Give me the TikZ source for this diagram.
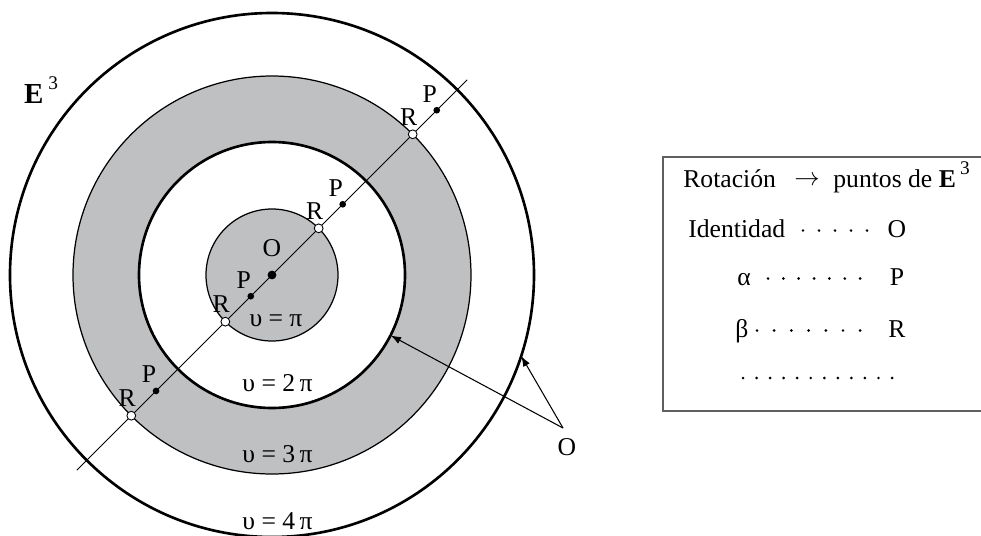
\documentclass[tikz,border=0pt]{standalone}
\usepackage{fontspec}
\setmainfont{Liberation Serif}
\usetikzlibrary{arrows.meta}

\definecolor{ringgray}{RGB}{191,192,194}
\definecolor{framegray}{RGB}{95,95,95}

\begin{document}
\begin{tikzpicture}[
  >={Latex[length=6pt,width=4.2pt]}, font=\fontsize{14.6}{17}\selectfont,
  thickring/.style={line width=1.5pt},
  thinring/.style={line width=0.7pt},
  axisline/.style={line width=0.55pt},
  ptfull/.style={circle, fill=black, inner sep=0pt, minimum size=3.8pt},
  ptcenter/.style={circle, fill=black, inner sep=0pt, minimum size=5pt},
  ptopen/.style={circle, draw, fill=white, line width=0.5pt, inner sep=0pt, minimum size=5pt},
  rlab/.style={label={[xshift=-2.3pt, label distance=-1pt]90:R}},
  plab/.style={label={[xshift=-4pt, label distance=-1pt]90:P}},
  ptr/.style={->, line width=0.6pt},
  tdot/.style={circle, fill=black, inner sep=0pt, minimum size=1.7pt},
  boxtxt/.style={inner sep=0pt, anchor=base west},
  colval/.style={inner sep=0pt, anchor=base},
]
  \useasboundingbox (-5.44,-5.2) rectangle (14.18,5.5);

  %% Shaded rings
  \fill[ringgray] (0,0) circle (3.98);
  \fill[white] (0,0) circle (2.66);
  \fill[ringgray] (0,0) circle (1.32);

  %% Circle outlines
  \draw[thickring] (0,0) circle (5.24);
  \draw[thinring] (0,0) circle (3.98);
  \draw[thickring] (0,0) circle (2.66);
  \draw[thinring] (0,0) circle (1.32);

  %% Diameter through O
  \coordinate (lo) at (225:5.52);
  \coordinate (hi) at (45:5.52);
  \draw[axisline] (lo) -- (hi);

  %% Points on the diameter
  \node[ptcenter, label={[label distance=4pt]90:O}] (o) at (0,0) {};
  \node[ptfull, plab] (p1) at (225:0.6) {};
  \node[ptopen, rlab] (r1) at (225:1.32) {};
  \node[ptfull, plab] (p2) at (45:2.0) {};
  \node[ptopen, rlab] (r2) at (45:1.32) {};
  \node[ptfull, plab] (p3) at (225:3.28) {};
  \node[ptopen, rlab] (r3) at (225:3.98) {};
  \node[ptfull, plab] (p4) at (45:4.66) {};
  \node[ptopen, rlab] (r4) at (45:3.98) {};

  %% Angle labels
  \node (v1) at (0.08,-0.92) {υ = π};
  \node (v2) at (0.11,-2.17) {υ = 2\,π};
  \node (v3) at (0.11,-3.59) {υ = 3\,π};
  \node (v4) at (0.11,-4.93) {υ = 4\,π};

  %% Space label
  \node (espace) at (-4.62,3.7)
    {\fontsize{16.5}{18}\selectfont\textbf{E}\,\raisebox{0.5em}{\fontsize{11}{12}\selectfont 3}};

  %% Pointers to the circles of O
  \node (olab) at (5.9,-3.44) {O};
  \coordinate (ofoot) at (5.82,-3.06);
  \coordinate (tin) at (-27:2.66);
  \coordinate (tout) at (-18:5.24);
  \draw[ptr] (ofoot) -- (tin);
  \draw[ptr] (ofoot) -- (tout);

  %% Table box
  \draw[framegray, line width=0.85pt] (14.4,2.36) -- (7.82,2.36) -- (7.82,-2.72) -- (14.4,-2.72);

  \node[boxtxt] (rot) at (8.22,1.76) {Rotación};
  \node[colval, font=\fontsize{13.5}{14}\selectfont] (arr) at (10.7,1.8) {$\rightarrow$};
  \node[boxtxt] (pts) at (11.22,1.76)
    {puntos de \textbf{E}\,\raisebox{0.5em}{\fontsize{11}{12}\selectfont 3}};

  \node[boxtxt] (ident) at (8.32,0.76) {Identidad};
  \foreach \i in {0,...,4}
    \node[tdot] at (10.62+0.32*\i,0.89) {};
  \node[colval] (vo) at (12.5,0.76) {O};

  \node[colval] (alf) at (9.44,-0.2) {α};
  \foreach \i in {0,...,6}
    \node[tdot] at (9.92+0.307*\i,-0.07) {};
  \node[colval] (vp) at (12.5,-0.2) {P};

  \node[colval] (bet) at (9.4,-1.24) {β};
  \foreach \i in {0,...,6}
    \node[tdot] at (9.7+0.344*\i,-1.11) {};
  \node[colval] (vr) at (12.5,-1.24) {R};

  \foreach \i in {0,...,11}
    \node[tdot] at (9.42+0.271*\i,-2.06) {};
\end{tikzpicture}
\end{document}
